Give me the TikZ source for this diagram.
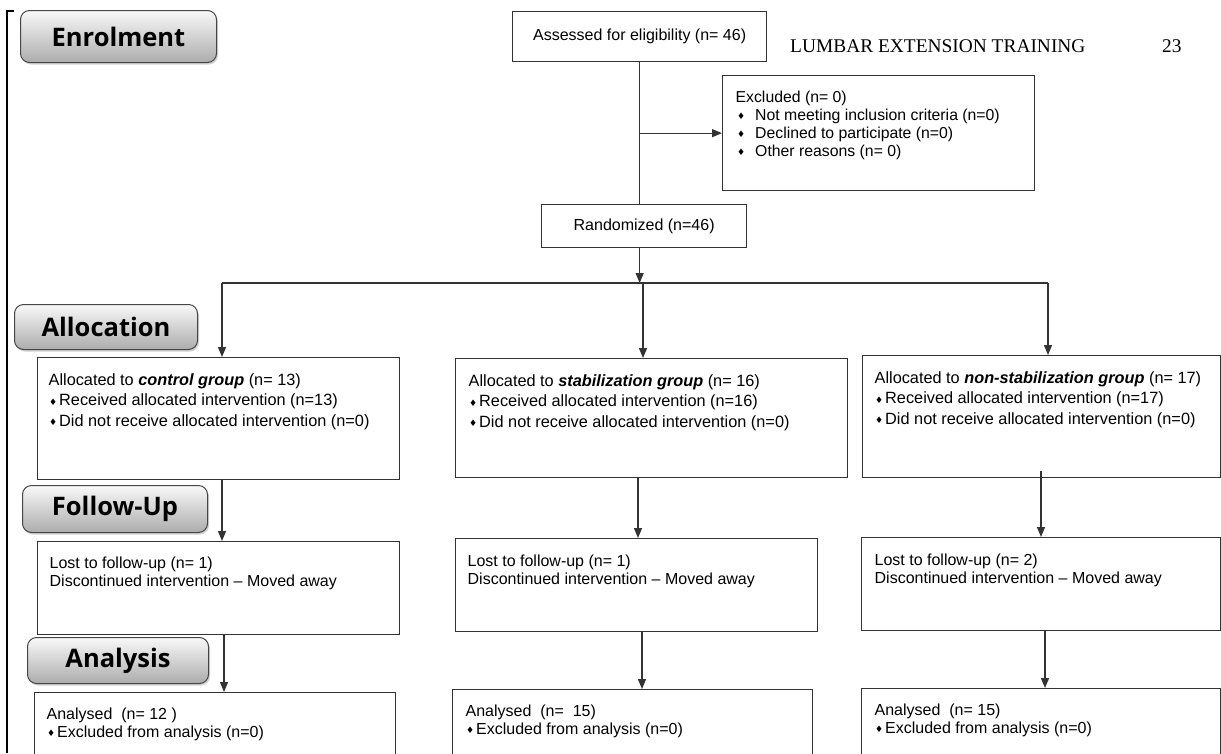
\documentclass[tikz,border=0pt]{standalone}
\usepackage{fontspec}
\setmainfont{Liberation Sans}
\newfontfamily\hdrfont{Liberation Serif}
\newfontfamily\btnfont{Open Sans}
\newfontfamily\symfont{DejaVu Sans}
\usetikzlibrary{arrows.meta,shadows,calc}
\definecolor{linec}{HTML}{333333}
\newcommand{\dmd}{\raisebox{0.8pt}{\symfont\fontsize{9}{9}\selectfont ♦}}
\newcommand{\bxt}[5]{\parbox[c][#2][t]{#1}{\leftskip=#3\relax\vspace*{#4}#5}}
\begin{document}
\begin{tikzpicture}[x=1pt,y=-1pt,
  box/.style={draw=linec, line width=1.3pt, inner sep=0pt, anchor=north west, rectangle},
  ctr/.style={draw=linec, line width=1.3pt, inner sep=0pt, anchor=north west, rectangle, font=\fontsize{16}{19}\selectfont},
  ln/.style={draw=linec, line width=1.3pt},
  arr/.style={draw=linec, line width=1.3pt, -{Triangle[length=10pt,width=8pt]}},
  btn/.style={draw=gray!55!black, line width=1pt, rounded corners=9pt, inner sep=0pt, anchor=north west,
    top color=gray!5, bottom color=gray!65,
    drop shadow={shadow xshift=1.5pt, shadow yshift=-2pt, opacity=0.35},
    font=\btnfont\bfseries\fontsize{25.5}{25.5}\selectfont},
  altx/.style={font=\fontsize{16.3}{20.5}\selectfont},
  futx/.style={font=\fontsize{16}{18}\selectfont},
  extx/.style={font=\fontsize{15.8}{18}\selectfont}
]
\useasboundingbox[fill=white] (0,0) rectangle (1221,753);

% left margin bar
\draw[line width=1.6pt, black] (14,11) -- (7,11) -- (7,753);

% header
\node[anchor=base west, inner sep=0pt, font=\hdrfont\fontsize{19.4}{19.4}\selectfont] (hdr) at (790,52) {LUMBAR EXTENSION TRAINING};
\node[anchor=base west, inner sep=0pt, font=\hdrfont\fontsize{19.4}{19.4}\selectfont] (pgn) at (1162,52) {23};

% stage buttons
\node[btn, minimum width=196pt, minimum height=52pt] (enr) at (20,10) {Enrolment};
\node[btn, minimum width=183pt, minimum height=45pt] (alc) at (14,304) {Allocation};
\node[btn, minimum width=185pt, minimum height=47pt] (fup) at (22,485) {Follow-Up};
\node[btn, minimum width=181pt, minimum height=46pt] (ana) at (27,637) {Analysis};

% enrolment
\node[ctr, minimum width=254pt, minimum height=50pt] (ase) at (512,11) {Assessed for eligibility (n= 46)};
\node[box, extx] (exc) at (722,75) {\bxt{312pt}{115pt}{13pt}{15pt}{Excluded (n= 0)\\
  \hspace*{1.5pt}\dmd\hspace{10pt}Not meeting inclusion criteria (n=0)\\
  \hspace*{1.5pt}\dmd\hspace{10pt}Declined to participate (n=0)\\
  \hspace*{1.5pt}\dmd\hspace{10pt}Other reasons (n= 0)}};
\node[ctr, minimum width=205pt, minimum height=43pt] (rnd) at (541,204) {Randomized (n=46)};

% allocation
\node[box, altx] (ca) at (37,357) {\bxt{362pt}{122pt}{11pt}{16pt}{Allocated to \textbf{\textit{control group}} (n= 13)\\
  \hspace*{0.5pt}\dmd\hspace{2pt}Received allocated intervention (n=13)\\
  \hspace*{0.5pt}\dmd\hspace{2pt}Did not receive allocated intervention (n=0)}};
\node[box, altx] (ma) at (455,358) {\bxt{392pt}{119pt}{13pt}{16pt}{Allocated to \textbf{\textit{stabilization group}} (n= 16)\\
  \hspace*{0.5pt}\dmd\hspace{2pt}Received allocated intervention (n=16)\\
  \hspace*{0.5pt}\dmd\hspace{2pt}Did not receive allocated intervention (n=0)}};
\node[box, altx] (ra) at (862,355) {\bxt{358pt}{122pt}{12pt}{16pt}{Allocated to \textbf{\textit{non-stabilization group}} (n= 17)\\
  \hspace*{0.5pt}\dmd\hspace{2pt}Received allocated intervention (n=17)\\
  \hspace*{0.5pt}\dmd\hspace{2pt}Did not receive allocated intervention (n=0)}};

% follow-up
\node[box, futx] (cf) at (37,541) {\bxt{362pt}{93pt}{12pt}{15pt}{Lost to follow-up (n= 1)\\ Discontinued intervention -- Moved away}};
\node[box, futx] (mf) at (455,538) {\bxt{362pt}{93pt}{12pt}{16pt}{Lost to follow-up (n= 1)\\ Discontinued intervention -- Moved away}};
\node[box, futx] (rf) at (861,537) {\bxt{359pt}{93pt}{13pt}{16pt}{Lost to follow-up (n= 2)\\ Discontinued intervention -- Moved away}};

% analysis
\node[box, futx] (can) at (34,692) {\bxt{361pt}{80pt}{12pt}{15pt}{Analysed\ \ (n= 12 )\\
  \hspace*{0.5pt}\dmd\hspace{2pt}Excluded from analysis (n=0)}};
\node[box, futx] (man) at (452,689) {\bxt{360pt}{80pt}{13pt}{15pt}{Analysed\ \ (n=\ \ 15)\\
  \hspace*{0.5pt}\dmd\hspace{2pt}Excluded from analysis (n=0)}};
\node[box, futx] (ran) at (861,688) {\bxt{359pt}{80pt}{13pt}{15pt}{Analysed\ \ (n= 15)\\
  \hspace*{0.5pt}\dmd\hspace{2pt}Excluded from analysis (n=0)}};

% coordinates
\coordinate (hlL) at (222,283);
\coordinate (hlM) at (643,283);
\coordinate (hlR) at (1048,283);
\coordinate (xa) at (222,0);
\coordinate (xb) at (224,0);
\coordinate (xc) at (638,0);
\coordinate (xd) at (642,0);
\coordinate (xe) at (1041,0);
\coordinate (xf) at (1045,0);

% connectors
\draw[ln] (ase.south) -- (ase.south |- rnd.north);
\draw[arr] (ase.south |- exc.west) -- (exc.west);
\draw[arr] (ase.south |- rnd.south) -- (ase.south |- hlL);
\draw[ln] (hlL) -- (hlR);
\draw[arr] (hlL) -- (hlL |- ca.north);
\draw[arr] (hlM) -- (hlM |- ma.north);
\draw[arr] (hlR) -- (hlR |- ra.north);
\draw[arr] (xa |- ca.south) -- (xa |- cf.north);
\draw[arr] (xc |- ma.south) -- (xc |- mf.north);
\draw[arr] ($(xe |- ra.south)+(0,-7)$) -- (xe |- rf.north);
\draw[arr] (xb |- cf.south) -- (xb |- can.north);
\draw[arr] (xd |- mf.south) -- (xd |- man.north);
\draw[arr] (xf |- rf.south) -- (xf |- ran.north);
\end{tikzpicture}
\end{document}
